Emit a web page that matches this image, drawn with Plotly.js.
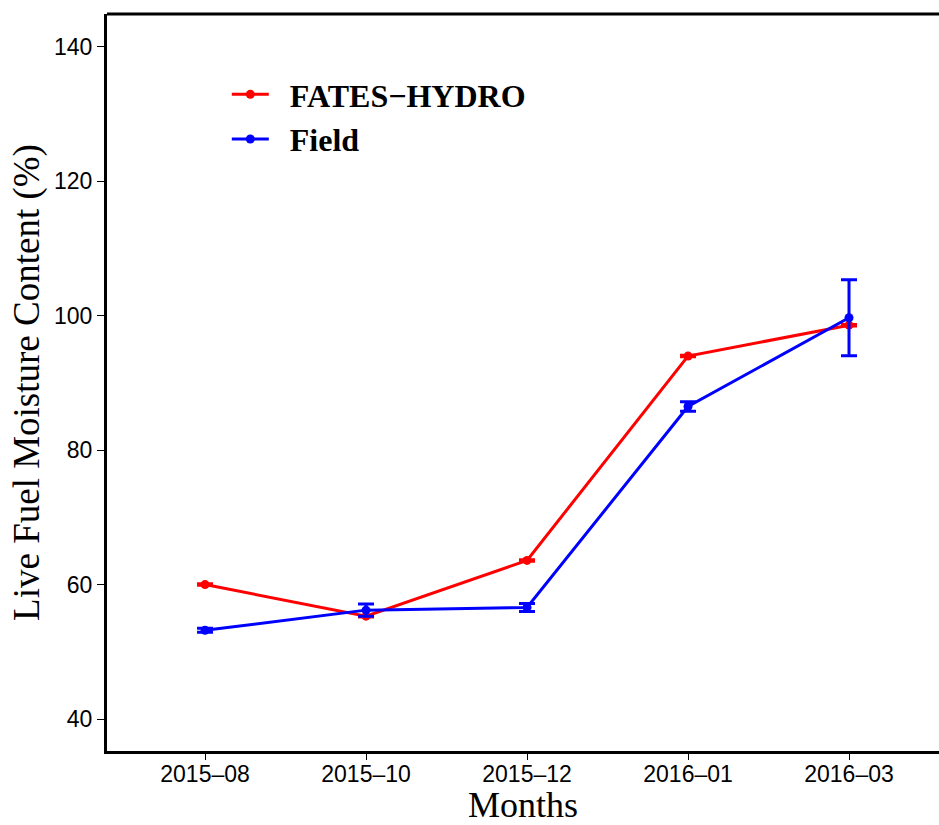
<!DOCTYPE html>
<html>
<head>
<meta charset="utf-8">
<script src="https://cdn.plot.ly/plotly-3.0.1.min.js"></script>
<style>html,body{margin:0;padding:0;background:#fff;}#chart{width:939px;height:825px;}</style>
</head>
<body>
<div id="chart"></div>
<script>
var months = ["2015–08", "2015–10", "2015–12", "2016–01", "2016–03"];
var fatesValues = [60.0, 55.3, 63.6, 94.0, 98.6];
var fatesErr = [0.15, 0.15, 0.15, 0.15, 0.15];
var fieldValues = [53.2, 56.2, 56.6, 86.5, 99.7];
var fieldErr = [0.3, 0.9, 0.6, 0.7, 5.65];
var yTicks = [40, 60, 80, 100, 120, 140];

var idx = months.map(function(m, i){ return i; });

var traces = [
  {
    x: idx, y: fatesValues, name: "\u00a0\u00a0FATES−HYDRO", type: "scatter", mode: "lines+markers",
    line: {color: "#ff0000", width: 3}, marker: {color: "#ff0000", size: 9},
    error_y: {type: "data", array: fatesErr, visible: true, color: "#ff0000", thickness: 2.5, width: 8}
  },
  {
    x: idx, y: fieldValues, name: "\u00a0\u00a0Field", type: "scatter", mode: "lines+markers",
    line: {color: "#0000ff", width: 3}, marker: {color: "#0000ff", size: 9},
    error_y: {type: "data", array: fieldErr, visible: true, color: "#0000ff", thickness: 3, width: 8}
  }
];

var layout = {
  width: 939, height: 825,
  margin: {l: 107, r: 0, t: 14, b: 74},
  paper_bgcolor: "#fff", plot_bgcolor: "#fff",
  showlegend: true,
  legend: {
    x: 0.144, y: 0.928, xanchor: "left", yanchor: "top",
    font: {family: "Liberation Serif", size: 32, color: "#000", weight: "bold"},
    bgcolor: "rgba(0,0,0,0)", tracegroupgap: 0, itemwidth: 37
  },
  xaxis: {
    range: [-0.609, 4.559],
    tickmode: "array", tickvals: idx, ticktext: months,
    showgrid: false, zeroline: false,
    showline: true, linecolor: "#000", linewidth: 3,
    ticks: "outside", ticklen: 6, tickwidth: 1, tickcolor: "#000",
    ticklabelstandoff: -6,
    tickfont: {family: "Liberation Sans", size: 23, color: "#000"},
    title: {text: "Months", font: {family: "Liberation Serif", size: 36, color: "#000"}, standoff: 8}
  },
  yaxis: {
    range: [35.24, 144.9],
    tickmode: "array", tickvals: yTicks,
    showgrid: false, zeroline: false,
    showline: true, linecolor: "#000", linewidth: 3,
    ticks: "outside", ticklen: 7, tickwidth: 1, tickcolor: "#000",
    tickfont: {family: "Liberation Sans", size: 23, color: "#000"},
    title: {text: "Live Fuel Moisture Content (%)", font: {family: "Liberation Serif", size: 37, color: "#000"}, standoff: 4}
  },
  shapes: [
    {type: "line", xref: "paper", yref: "paper", x0: 0, x1: 1.01, y0: 1, y1: 1,
     line: {color: "#000", width: 3}}
  ]
};

Plotly.newPlot("chart", traces, layout, {displayModeBar: false, staticPlot: true});
</script>
</body>
</html>
